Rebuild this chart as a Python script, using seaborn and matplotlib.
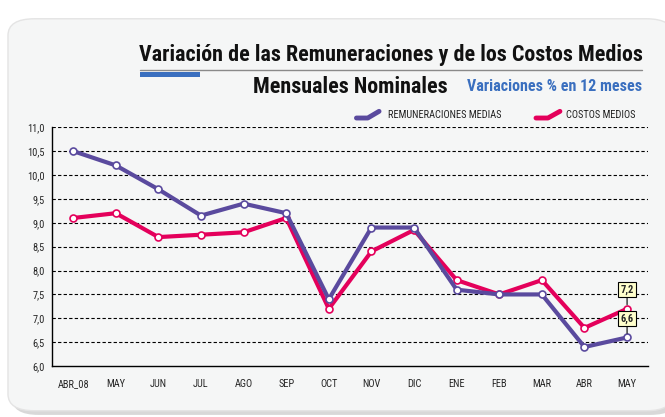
import numpy as np
import pandas as pd
import seaborn as sns
from matplotlib import pyplot as plt
from matplotlib.patches import FancyBboxPatch, Rectangle
from matplotlib.lines import Line2D

months = ['ABR_08', 'MAY', 'JUN', 'JUL', 'AGO', 'SEP', 'OCT', 'NOV', 'DIC',
          'ENE', 'FEB', 'MAR', 'ABR', 'MAY']
remuneraciones = [10.5, 10.2, 9.7, 9.15, 9.4, 9.2, 7.4, 8.9, 8.9, 7.6, 7.5, 7.5, 6.4, 6.6]
costos = [9.1, 9.2, 8.7, 8.75, 8.8, 9.1, 7.2, 8.4, 8.85, 7.8, 7.5, 7.8, 6.8, 7.2]
yticks = [6.0, 6.5, 7.0, 7.5, 8.0, 8.5, 9.0, 9.5, 10.0, 10.5, 11.0]

purple = '#5a4a9e'
pink = '#e4005b'
narrow = ['Liberation Sans Narrow', 'Roboto Condensed', 'Roboto', 'DejaVu Sans']

df = pd.DataFrame({'pos': np.arange(len(months)), 'rem': remuneraciones, 'cos': costos})

sns.set_style('white')
plt.rcParams['font.family'] = narrow

fig = plt.figure(figsize=(6.65, 4.17), dpi=100)
fig.patch.set_facecolor('white')

# rounded gray panel with shadow
shadow = FancyBboxPatch((0.018, 0.005), 1.0, 0.94, boxstyle='round,pad=0,rounding_size=0.04',
                        transform=fig.transFigure, facecolor='#d8d8d8', edgecolor='none', zorder=-10)
panel = FancyBboxPatch((0.012, 0.015), 1.0, 0.94, boxstyle='round,pad=0,rounding_size=0.04',
                       transform=fig.transFigure, facecolor='#f5f6f6', edgecolor='#e4e4e4', zorder=-9)
fig.patches.extend([shadow, panel])

ax = fig.add_axes([0.078, 0.122, 0.897, 0.573])
ax.set_facecolor('none')

sns.lineplot(data=df, x='pos', y='cos', color=pink, lw=3, marker='o', ms=5,
             mfc='white', mec=pink, mew=1.2, ax=ax, zorder=3)
sns.lineplot(data=df, x='pos', y='rem', color=purple, lw=3, marker='o', ms=5,
             mfc='white', mec=purple, mew=1.2, ax=ax, zorder=4)

ax.set_xlim(-0.5, len(months) - 0.5)
ax.set_ylim(6.0, 11.0)
ax.set_yticks(yticks)
ax.set_yticklabels([f'{v:.1f}'.replace('.', ',') for v in yticks], fontsize=7.5)
for v in yticks[1:]:
    ax.axhline(v, color='black', lw=0.8, ls=(0, (3, 2)), zorder=1)

ax.set_xticks(np.arange(len(months)))
ax.set_xticklabels(months, fontsize=7.5)
ax.tick_params(axis='x', which='major', length=0, pad=9)
ax.set_xticks(np.arange(len(months) + 1) - 0.5, minor=True)
ax.tick_params(axis='x', which='minor', length=4, width=0.8, color='black', direction='out')
ax.tick_params(axis='y', length=3, width=0.8, color='black', direction='out', pad=2)
ax.set_xlabel('')
ax.set_ylabel('')
for s in ['top', 'right']:
    ax.spines[s].set_visible(False)
for s in ['left', 'bottom']:
    ax.spines[s].set_color('black')
    ax.spines[s].set_linewidth(1.0)

# value labels for last point
box = dict(boxstyle='square,pad=0.25', fc='#ffffcc', ec='black', lw=0.8)
last = len(months) - 1
ax.annotate(f'{costos[-1]:.1f}'.replace('.', ','), xy=(last, costos[-1]), xytext=(0, 10),
            textcoords='offset points', ha='center', va='bottom', fontsize=7.5, fontweight='bold',
            bbox=box, arrowprops=dict(arrowstyle='-', color='black', lw=0.8, shrinkA=0, shrinkB=3),
            zorder=6)
ax.annotate(f'{remuneraciones[-1]:.1f}'.replace('.', ','), xy=(last, remuneraciones[-1]), xytext=(0, 10),
            textcoords='offset points', ha='center', va='bottom', fontsize=7.5, fontweight='bold',
            bbox=box, arrowprops=dict(arrowstyle='-', color='black', lw=0.8, shrinkA=0, shrinkB=3),
            zorder=6)

# title block
fig.text(0.966, 0.868, 'Variación de las Remuneraciones y de los Costos Medios', ha='right',
         va='center', fontsize=15.8, fontweight='bold', color='#111111')
fig.add_artist(Line2D([0.210, 0.966], [0.833, 0.833], transform=fig.transFigure,
                      color='#8a8a8a', lw=1))
fig.add_artist(Rectangle((0.210, 0.815), 0.090, 0.013, transform=fig.transFigure,
                         facecolor='#3a6fbf', edgecolor='none'))
fig.text(0.966, 0.792, 'Variaciones % en 12 meses', ha='right', va='center', fontsize=11.5,
         fontweight='bold', color='#3a6fbf')
fig.text(0.673, 0.792, 'Mensuales Nominales', ha='right', va='center', fontsize=15.8,
         fontweight='bold', color='#111111')

# legend
fig.add_artist(Line2D([0.536, 0.553, 0.570], [0.717, 0.717, 0.733], transform=fig.transFigure,
                      color=purple, lw=3.5, solid_capstyle='round'))
fig.text(0.583, 0.724, 'REMUNERACIONES MEDIAS', ha='left', va='center', fontsize=7.5, color='#222222')
fig.add_artist(Line2D([0.806, 0.824, 0.842], [0.717, 0.717, 0.733], transform=fig.transFigure,
                      color=pink, lw=3.5, solid_capstyle='round'))
fig.text(0.851, 0.724, 'COSTOS MEDIOS', ha='left', va='center', fontsize=7.5, color='#222222')

fig.savefig('out.png', dpi=100)
